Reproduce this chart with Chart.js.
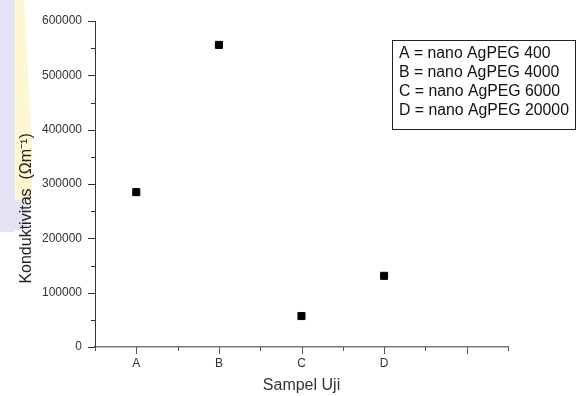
<!DOCTYPE html>
<html>
<head>
<meta charset="utf-8">
<script src="https://cdn.jsdelivr.net/npm/chart.js@4/dist/chart.umd.min.js"></script>
<style>
  html, body { margin: 0; padding: 0; background: #fff; }
  #wrap { width: 578px; height: 396px; position: relative; }
</style>
</head>
<body>
<div id="wrap"><canvas id="chart"></canvas></div>
<script>
// data
var categories = ["A", "B", "C", "D", ""];
var xPositions = [1, 2, 3, 4];
var konduktivitas = [285000, 556000, 57000, 131000];
var yTicks = [0, 100000, 200000, 300000, 400000, 500000, 600000];
var legendLines = [
    "A = nano AgPEG 400",
    "B = nano AgPEG 4000",
    "C = nano AgPEG 6000",
    "D = nano AgPEG 20000"
];

var points = xPositions.map(function (x, i) {
    return { x: x, y: konduktivitas[i] };
});

// faint watermark strip on the left edge
var watermark = {
    id: "watermark",
    beforeDraw: function (chart) {
        var ctx = chart.ctx;
        ctx.save();
        ctx.fillStyle = "#e4e4f4";
        ctx.fillRect(0, 0, 15, 232);
        ctx.fillRect(0, 200, 27, 30);
        ctx.fillStyle = "#fff7d2";
        ctx.beginPath();
        ctx.moveTo(15, 0);
        ctx.lineTo(24, 0);
        ctx.lineTo(32, 140);
        ctx.lineTo(32, 200);
        ctx.lineTo(15, 200);
        ctx.closePath();
        ctx.fill();
        ctx.restore();
    }
};

// major + minor tick marks, outward like Origin
var tickMarks = {
    id: "tickMarks",
    afterDraw: function (chart) {
        var ctx = chart.ctx;
        var xs = chart.scales.x, ys = chart.scales.y;
        ctx.save();
        ctx.lineWidth = 1;
        ctx.strokeStyle = "#333";
        for (var v = 0; v <= 600000; v += 50000) {
            var py = Math.round(ys.getPixelForValue(v)) + 0.5;
            var len = (v % 100000 === 0) ? 7 : 4;
            ctx.beginPath();
            ctx.moveTo(xs.left, py);
            ctx.lineTo(xs.left - len, py);
            ctx.stroke();
        }
        ctx.strokeStyle = "#555";
        for (var k = 0.5; k <= 5.5; k += 0.5) {
            var px = Math.round(xs.getPixelForValue(k)) + 0.5;
            var l2 = (k % 1 === 0) ? 7 : 4;
            ctx.beginPath();
            ctx.moveTo(px, ys.bottom);
            ctx.lineTo(px, ys.bottom + l2);
            ctx.stroke();
        }
        ctx.restore();
    }
};

// text box in the top right corner
var textBox = {
    id: "textBox",
    afterDraw: function (chart) {
        var ctx = chart.ctx;
        ctx.save();
        ctx.fillStyle = "#fff";
        ctx.fillRect(392, 40, 184, 90);
        ctx.strokeStyle = "#222";
        ctx.lineWidth = 1;
        ctx.strokeRect(392.5, 40.5, 183, 89);
        ctx.fillStyle = "#111";
        ctx.font = "15.8px 'Liberation Sans', Arial, sans-serif";
        ctx.textBaseline = "middle";
        legendLines.forEach(function (t, i) {
            ctx.fillText(t, 399, 54 + i * 19);
        });
        ctx.restore();
    }
};

new Chart(document.getElementById("chart"), {
    type: "scatter",
    data: {
        datasets: [{
            data: points,
            pointStyle: "rect",
            pointRadius: 5,
            pointHoverRadius: 5,
            backgroundColor: "#000",
            borderColor: "#000",
            borderWidth: 1
        }]
    },
    options: {
        responsive: true,
        maintainAspectRatio: false,
        animation: false,
        layout: { padding: { left: 17, top: 21, right: 70, bottom: 1 } },
        plugins: {
            legend: { display: false },
            tooltip: { enabled: false }
        },
        scales: {
            x: {
                type: "linear",
                min: 0.5,
                max: 5.5,
                afterBuildTicks: function (scale) {
                    scale.ticks = [1, 2, 3, 4, 5].map(function (v) { return { value: v }; });
                },
                afterFit: function (scale) { scale.height = 48; },
                grid: { display: false, drawTicks: false },
                border: { display: true, color: "#777", width: 1.5 },
                ticks: {
                    padding: 9,
                    color: "#333",
                    font: { family: "'Liberation Sans', Arial, sans-serif", size: 12 },
                    callback: function (v) { return categories[v - 1]; }
                },
                title: {
                    display: true,
                    text: "Sampel Uji",
                    color: "#333",
                    padding: 0,
                    font: { family: "'Liberation Sans', Arial, sans-serif", size: 16 }
                }
            },
            y: {
                min: 0,
                max: 600000,
                afterBuildTicks: function (scale) {
                    scale.ticks = yTicks.map(function (v) { return { value: v }; });
                },
                afterFit: function (scale) { scale.width = 78; },
                grid: { display: false, drawTicks: false },
                border: { display: true, color: "#333", width: 1 },
                ticks: {
                    padding: 13,
                    color: "#333",
                    font: { family: "'Liberation Sans', Arial, sans-serif", size: 12 },
                    callback: function (v) { return String(v); }
                },
                title: {
                    display: true,
                    text: "Konduktivitas  (Ωm⁻¹)\u00a0\u00a0\u00a0\u00a0\u00a0\u00a0\u00a0\u00a0\u00a0\u00a0\u00a0",
                    color: "#222",
                    padding: 0,
                    font: { family: "'Liberation Sans', Arial, sans-serif", size: 16 }
                }
            }
        }
    },
    plugins: [watermark, tickMarks, textBox]
});
</script>
</body>
</html>
